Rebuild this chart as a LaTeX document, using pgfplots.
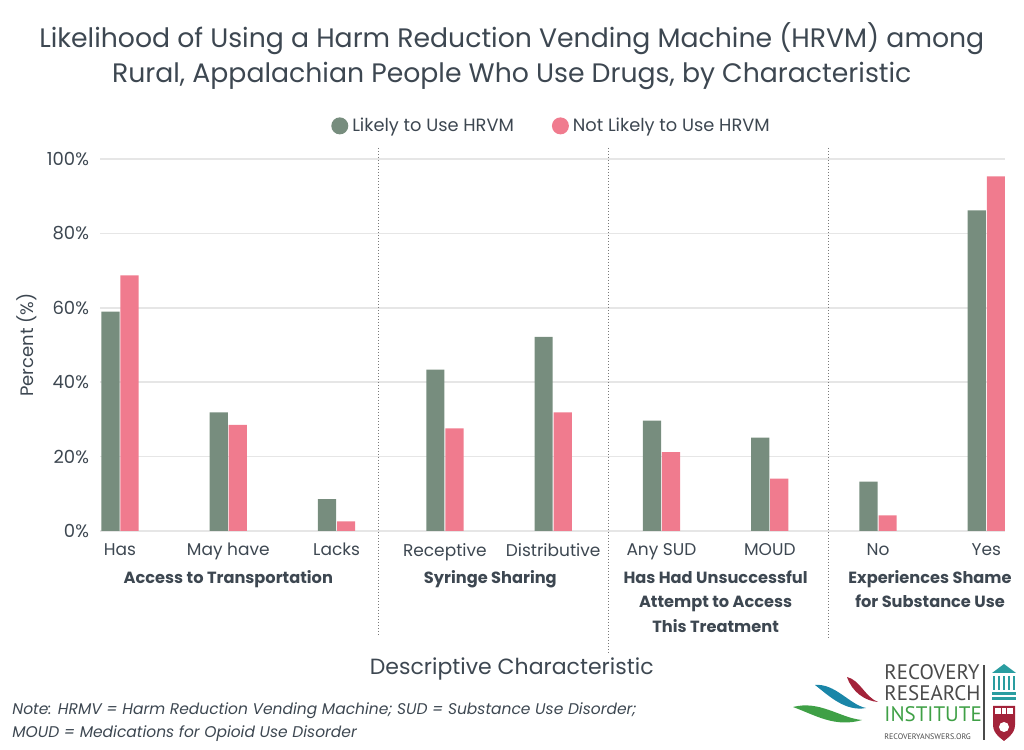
\documentclass[border=0pt]{standalone}
\usepackage{fontspec}
\setmainfont{Poppins}
\newfontfamily\logofont{PT Sans}
\usepackage{pgfplots}
\pgfplotsset{compat=1.18}
\definecolor{greenc}{HTML}{778D7E}
\definecolor{pinkc}{HTML}{F07B8E}
\definecolor{textc}{HTML}{3D4751}
\definecolor{gridc}{HTML}{E6E6E6}
\definecolor{sepc}{HTML}{7A7A7A}
\definecolor{logogreen}{HTML}{3FA046}
\definecolor{logoblue}{HTML}{1A86A8}
\definecolor{logored}{HTML}{A3233A}
\definecolor{logoteal}{HTML}{2A9DA0}
\definecolor{logogray}{HTML}{4A4A4A}
\begin{document}
\begin{tikzpicture}
\path[use as bounding box] (0,0) rectangle (512pt,375pt);
\begin{axis}[
  at={(50pt,109.5pt)}, anchor=south west,
  scale only axis, width=452.5pt, height=186pt,
  xmin=-0.1847, xmax=8.172, ymin=0, ymax=100,
  clip=false,
  axis line style={draw=none},
  major tick length=0pt,
  ymajorgrids, grid style={gridc, line width=0.8pt},
  ytick={0,20,...,100},
  yticklabel={\pgfmathprintnumber{\tick}\%},
  /pgf/number format/assume math mode=true,
  yticklabel style={font=\fontsize{9}{10}\selectfont, text=textc, xshift=-2pt},
  xtick={0,...,8},
  xticklabels={Has, May have, Lacks, Receptive, Distributive, Any SUD, MOUD, No, Yes},
  xticklabel style={font=\fontsize{8.5}{10}\selectfont, text=textc, inner sep=0pt, yshift=-6pt},
  ylabel={Percent (\%)},
  ylabel style={at={(axis description cs:-0.0807,0.5)}, anchor=center, font=\fontsize{9}{10}\selectfont, text=textc},
  xlabel={Descriptive Characteristic},
  xlabel style={at={(axis description cs:0.455,-0.371)}, anchor=center, font=\fontsize{11}{12}\selectfont, text=textc},
  title={Likelihood of Using a Harm Reduction Vending Machine (HRVM) among\\Rural, Appalachian People Who Use Drugs, by Characteristic},
  title style={at={(axis description cs:0.455,1.245)}, anchor=center, align=center, font=\fontsize{13.35}{17.5}\selectfont, text=textc},
  legend style={at={(axis description cs:0.5,1.089)}, anchor=center, draw=none, fill=none,
    legend columns=2, font=\fontsize{8.9}{10}\selectfont, text=textc,
    /tikz/every even column/.append style={column sep=17pt}},
]
\addplot[ybar, fill=greenc, draw=none, bar width=0.168, bar shift=-0.088,
  legend image code/.code={\fill[greenc] (3pt,0pt) circle (4.25pt);}]
  coordinates {(0,59.0) (1,31.9) (2,8.6) (3,43.4) (4,52.2) (5,29.7) (6,25.1) (7,13.3) (8,86.2)};
\addlegendentry{Likely to Use HRVM}
\addplot[ybar, fill=pinkc, draw=none, bar width=0.168, bar shift=0.088,
  legend image code/.code={\fill[pinkc] (3pt,0pt) circle (4.25pt);}]
  coordinates {(0,68.7) (1,28.5) (2,2.6) (3,27.6) (4,31.9) (5,21.2) (6,14.1) (7,4.2) (8,95.3)};
\addlegendentry{Not Likely to Use HRVM}
\draw[sepc, densely dotted, line width=0.5pt] (axis cs:2.39,103) -- (axis cs:2.39,-28.2);
\draw[sepc, densely dotted, line width=0.5pt] (axis cs:4.515,103) -- (axis cs:4.515,-32.8);
\draw[sepc, densely dotted, line width=0.5pt] (axis cs:6.542,103) -- (axis cs:6.542,-28.5);
\begin{scope}[every node/.style={anchor=north, inner sep=0pt, align=center, text=textc, font=\bfseries\fontsize{8.1}{12.25}\selectfont}]
\node at (axis cs:1,-10.5) {Access to Transportation};
\node at (axis cs:3.42,-10.5) {Syringe Sharing};
\node at (axis cs:5.5,-10.5) {Has Had Unsuccessful\\Attempt to Access\\This Treatment};
\node at (axis cs:7.48,-10.5) {Experiences Shame\\for Substance Use};
\end{scope}
\end{axis}
\begin{scope}[x=0.5pt,y=-0.5pt,yshift=375pt]
\node[anchor=base west, inner sep=0pt, text=textc, font=\itshape\fontsize{7.75}{10}\selectfont] at (12,715) {Note: HRMV = Harm Reduction Vending Machine; SUD = Substance Use Disorder;};
\node[anchor=base west, inner sep=0pt, text=textc, font=\itshape\fontsize{7.75}{10}\selectfont] at (12,738) {MOUD = Medications for Opioid Use Disorder};
% logo leaves
\fill[logored] (847,677) .. controls (860,680) and (865,697) .. (878,702) .. controls (865,701) and (852,692) .. (847,677) -- cycle;
\fill[logoblue] (815,685) .. controls (835,683) and (850,705) .. (866,708) .. controls (845,712) and (828,695) .. (815,685) -- cycle;
\fill[logogreen] (793,707) .. controls (820,700) and (840,718) .. (862,720) .. controls (835,728) and (815,715) .. (793,707) -- cycle;
% logo text
\node[anchor=base west, inner sep=0pt, text=logogray, font=\logofont\fontsize{10.5}{11}\selectfont] at (884,680) {RECOVERY};
\node[anchor=base west, inner sep=0pt, text=logogray, font=\logofont\fontsize{10.5}{11}\selectfont] at (884,701) {RESEARCH};
\node[anchor=base west, inner sep=0pt, text=logogreen, font=\logofont\fontsize{10.5}{11}\selectfont] at (884,722) {INSTITUTE};
\node[anchor=base west, inner sep=0pt, text=logogray, font=\logofont\fontsize{4}{5}\selectfont] at (884,740) {RECOVERYANSWERS.ORG};
\draw[logogray, line width=0.6pt] (984,665) -- (984,740);
% building icon
\fill[logoteal] (992,673) -- (1004,664) -- (1016,673) -- cycle;
\foreach \xx in {994,999,1004,1009,1014} {\fill[logoteal] (\xx-1,676) rectangle (\xx+1,690);}
\fill[logoteal] (992,692) rectangle (1016,695);
\fill[logoteal] (992,697) rectangle (1016,700);
% shield
\fill[logored] (993,706) -- (1015,706) -- (1015,725) .. controls (1015,734) and (1006,739) .. (1004,741) .. controls (1002,739) and (993,734) .. (993,725) -- cycle;
\fill[white] (995,708) rectangle (1001,714);
\fill[white] (1002,708) rectangle (1006,714);
\fill[white] (1007,708) rectangle (1013,714);
\fill[white] (1004,727) circle (5);
\end{scope}
\end{tikzpicture}
\end{document}
